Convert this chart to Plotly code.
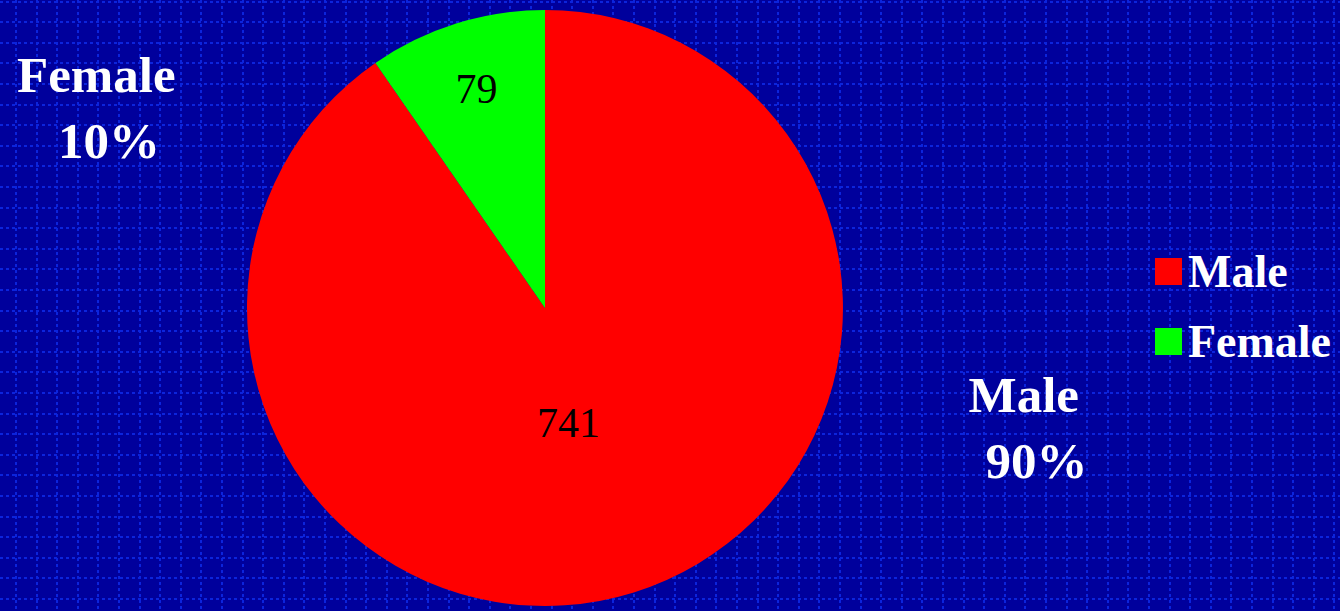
import plotly.graph_objects as go

labels = ["Male", "Female"]
values = [741, 79]
percent_labels = ["90%", "10%"]
colors = ["#FF0000", "#00FF00"]

W, H = 1340, 611
BG = "#00009C"
GRID = "#0C24DC"

fig = go.Figure()

# invisible scatter to anchor the background grid axes
fig.add_trace(go.Scatter(x=[0, W], y=[0, H], mode="markers", marker=dict(opacity=0),
                         showlegend=False, hoverinfo="skip"))

fig.add_trace(go.Pie(
    labels=labels, values=values, sort=False, direction="clockwise", rotation=0,
    marker=dict(colors=colors, line=dict(width=0)),
    textinfo="value", textposition="inside", insidetextorientation="horizontal",
    texttemplate=["%{value}\u00a0\u00a0\u00a0\u00a0<br> ", "%{value}"],
    textfont=dict(family="Liberation Serif", size=42, color="black"),
    domain=dict(x=[0.1843, 0.6291], y=[0.0082, 0.9836]),
    showlegend=False,
))

# outside labels
ann_pos = {"Female": (96, 108), "Male": (1024, 428)}
annotations = []
for lab, pct in zip(labels, percent_labels):
    x, y = ann_pos[lab]
    annotations.append(dict(
        x=x, y=y, xref="x", yref="y", showarrow=False,
        text=f"{lab}<br>\u00a0\u00a0{pct}", align="center",
        font=dict(family="Liberation Serif", size=51, color="white", weight="bold"),
    ))

# manual legend (large square keys)
shapes = []
leg_x0, leg_y0, key, gap = 1155, 258, 27, 70
for i, (lab, col) in enumerate(zip(labels, colors)):
    y0 = leg_y0 + i * gap
    shapes.append(dict(type="rect", xref="x", yref="y", x0=leg_x0, x1=leg_x0 + key,
                       y0=y0, y1=y0 + key, fillcolor=col, line=dict(width=0)))
    annotations.append(dict(
        x=leg_x0 + key + 4, y=y0 + key / 2, xref="x", yref="y", showarrow=False,
        xanchor="left", yanchor="middle", text=lab,
        font=dict(family="Liberation Serif", size=46, color="white", weight="bold"),
    ))

fig.update_layout(
    width=W, height=H, margin=dict(l=0, r=0, t=0, b=0),
    paper_bgcolor=BG, plot_bgcolor=BG,
    xaxis=dict(range=[0, W], showgrid=True, gridcolor=GRID, griddash="dot", gridwidth=2,
               tick0=16, dtick=20.6, showticklabels=False, zeroline=False, ticks="",
               fixedrange=True),
    yaxis=dict(range=[H, 0], showgrid=True, gridcolor=GRID, griddash="dot", gridwidth=2,
               tick0=1.5, dtick=20.6, showticklabels=False, zeroline=False, ticks="",
               fixedrange=True),
    annotations=annotations,
    shapes=shapes,
    showlegend=False,
)

fig.write_html("out.html", config={"displayModeBar": False},
               post_script="document.body.style.margin='0';")
